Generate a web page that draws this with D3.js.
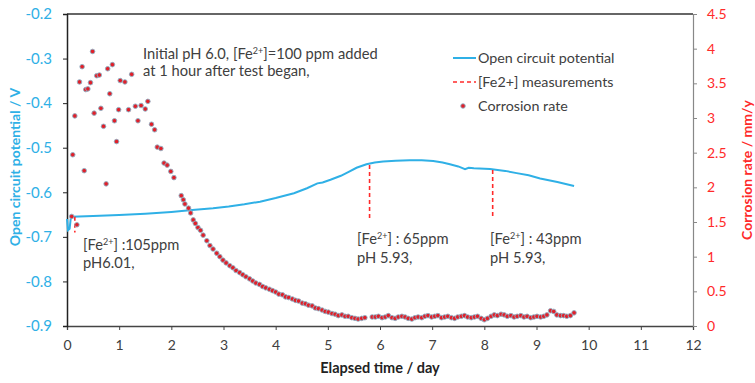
<!DOCTYPE html>
<html>
<head>
<meta charset="utf-8">
<script src="https://cdn.jsdelivr.net/npm/d3@7"></script>
<style>
  body { margin: 0; background: #fff; }
  text { font-family: Lato, "Open Sans", sans-serif; }
</style>
</head>
<body>
<svg id="chart" width="755" height="383"></svg>
<script>
// open circuit potential (V) vs elapsed time (day)
const ocpTime = [0, 0.02, 0.05, 0.07, 0.1, 0.5, 1.0, 1.5, 2.0, 2.4, 2.8, 3.1, 3.4, 3.7, 4.0, 4.35, 4.6, 4.8, 4.9, 5.05, 5.25, 5.4, 5.55, 5.74, 5.9, 6.06, 6.3, 6.57, 6.8, 7.02, 7.2, 7.34, 7.5, 7.63, 7.7, 7.8, 8.11, 8.4, 8.62, 8.85, 9.07, 9.4, 9.72];
const ocpValue = [-0.66, -0.685, -0.682, -0.66, -0.655, -0.653, -0.651, -0.648, -0.644, -0.640, -0.636, -0.632, -0.627, -0.621, -0.613, -0.602, -0.591, -0.580, -0.578, -0.572, -0.563, -0.554, -0.545, -0.537, -0.533, -0.531, -0.529, -0.528, -0.528, -0.530, -0.533, -0.537, -0.542, -0.548, -0.545, -0.546, -0.548, -0.552, -0.557, -0.562, -0.569, -0.577, -0.586];

// corrosion rate (mm/y)
const crTime = [0.09, 0.19, 0.11, 0.15, 0.33, 0.24, 0.29, 0.36, 0.40, 0.45, 0.49, 0.52, 0.57, 0.62, 0.65, 0.70, 0.75, 0.78, 0.82, 0.87, 0.91, 0.95, 0.99, 1.02, 1.11, 1.18, 1.24, 1.31, 1.36, 1.42, 1.50, 1.55, 1.62, 1.68, 1.73, 1.80, 1.86, 1.92, 1.99, 2.05,
  2.19, 2.23, 2.26, 2.33, 2.37, 2.42, 2.46, 2.51, 2.56, 2.61, 2.68, 2.74, 2.80, 2.87, 2.93, 2.99, 3.05, 3.12, 3.18, 3.24, 3.31, 3.37, 3.43, 3.50, 3.56, 3.62, 3.69, 3.75, 3.81, 3.88, 3.94, 4.00, 4.06, 4.13, 4.19, 4.25, 4.32, 4.38, 4.44, 4.51, 4.57, 4.63, 4.70, 4.76, 4.82, 4.89, 4.95, 5.01, 5.08, 5.14, 5.20, 5.27, 5.33, 5.39, 5.46, 5.52, 5.58, 5.65, 5.71,
  5.85, 5.91, 5.97, 6.04, 6.10, 6.16, 6.23, 6.29, 6.35, 6.42, 6.48, 6.54, 6.61, 6.67, 6.73, 6.80, 6.86, 6.92, 6.99, 7.05, 7.11, 7.18, 7.24, 7.30, 7.37, 7.43, 7.49, 7.56, 7.62, 7.68, 7.75, 7.81, 7.87, 7.94, 8.00, 8.06, 8.13, 8.19, 8.25, 8.32, 8.38, 8.44, 8.51, 8.57, 8.63, 8.70, 8.76, 8.82, 8.89, 8.95, 9.01, 9.08, 9.14, 9.20, 9.27, 9.33, 9.39, 9.46, 9.52, 9.58, 9.65, 9.72];
const crValue = [1.58, 1.46, 2.47, 3.03, 2.24, 3.52, 3.74, 3.41, 3.42, 3.51, 3.96, 3.07, 3.61, 3.62, 3.14, 2.88, 2.05, 3.71, 3.35, 3.77, 2.96, 2.66, 3.12, 3.54, 3.52, 3.12, 3.63, 3.17, 2.96, 3.18, 3.13, 3.24, 2.91, 2.83, 2.58, 2.56, 2.35, 2.32, 2.23, 2.14,
  1.88, 1.82, 1.76, 1.70, 1.63, 1.53, 1.48, 1.42, 1.38, 1.31, 1.23, 1.16, 1.11, 1.05, 1.00, 0.95, 0.91, 0.87, 0.84, 0.80, 0.77, 0.74, 0.71, 0.68, 0.65, 0.62, 0.60, 0.57, 0.55, 0.53, 0.51, 0.49, 0.46, 0.45, 0.42, 0.41, 0.39, 0.37, 0.36, 0.33, 0.32, 0.30, 0.29, 0.26, 0.25, 0.23, 0.21, 0.20, 0.18, 0.17, 0.15, 0.16, 0.14, 0.14, 0.12, 0.11, 0.10, 0.11, 0.12,
  0.13, 0.13, 0.14, 0.12, 0.13, 0.15, 0.12, 0.11, 0.13, 0.14, 0.13, 0.11, 0.10, 0.12, 0.13, 0.12, 0.14, 0.15, 0.13, 0.14, 0.15, 0.12, 0.13, 0.14, 0.12, 0.11, 0.13, 0.14, 0.15, 0.13, 0.12, 0.13, 0.14, 0.11, 0.09, 0.11, 0.14, 0.16, 0.15, 0.17, 0.16, 0.14, 0.15, 0.13, 0.14, 0.15, 0.13, 0.14, 0.12, 0.13, 0.14, 0.13, 0.14, 0.16, 0.22, 0.21, 0.16, 0.15, 0.15, 0.14, 0.15, 0.19];

// [Fe2+] measurements, vertical dashes (in V)
const fe2Time = [0.15, 5.8, 8.16];
const fe2Top = [-0.655, -0.539, -0.55];
const fe2Bottom = [-0.69, -0.661, -0.658];

const xTicks = d3.range(0, 13, 1);
const leftTicks = [-0.9, -0.8, -0.7, -0.6, -0.5, -0.4, -0.3, -0.2];
const rightTicks = [0, 0.5, 1, 1.5, 2, 2.5, 3, 3.5, 4, 4.5];

const blue = "#2fb0e6", red = "#ff2a2a", dark = "#404040";

const svg = d3.select("#chart");
const x = d3.scaleLinear([0, 12], [67, 693]);
const yL = d3.scaleLinear([-0.9, -0.2], [326, 14]);
const yR = d3.scaleLinear([0, 4.5], [326, 14]);

// frame top
svg.append("line").attr("x1", 67).attr("x2", 693).attr("y1", 14).attr("y2", 14)
    .attr("stroke", "#333").attr("stroke-width", 1.3);

const xAxis = svg.append("g").attr("transform", "translate(0,326)")
    .call(d3.axisBottom(x).tickValues(xTicks).tickSize(4).tickPadding(10).tickFormat(d => d));
xAxis.select(".domain").attr("stroke", "#444").attr("stroke-width", 1.3);
xAxis.selectAll(".tick line").attr("stroke", "#444");
xAxis.selectAll("text").attr("fill", dark).style("font-size", "14px").style("font-family", "Lato, sans-serif");

const lAxis = svg.append("g").attr("transform", "translate(67,0)")
    .call(d3.axisLeft(yL).tickValues(leftTicks).tickSize(4).tickPadding(11).tickFormat(d => d.toFixed(1)));
lAxis.select(".domain").attr("stroke", "#222").attr("stroke-width", 1.5);
lAxis.selectAll(".tick line").attr("stroke", "#222");
lAxis.selectAll("text").attr("fill", blue).style("font-size", "15px").style("font-family", "Lato, sans-serif");

const rAxis = svg.append("g").attr("transform", "translate(693,0)")
    .call(d3.axisRight(yR).tickValues(rightTicks).tickSize(4).tickPadding(10).tickFormat(d => d));
rAxis.select(".domain").attr("stroke", "#888").attr("stroke-width", 1.2);
rAxis.selectAll(".tick line").attr("stroke", "#888");
rAxis.selectAll("text").attr("fill", red).style("font-size", "14px").style("font-family", "Lato, sans-serif");

// axis titles
svg.append("text").attr("transform", "translate(20,167) rotate(-90)")
    .attr("text-anchor", "middle").attr("fill", blue)
    .style("font-size", "14px").style("font-weight", "bold")
    .text("Open circuit potential / V");
svg.append("text").attr("transform", "translate(752,170) rotate(-90)")
    .attr("text-anchor", "middle").attr("fill", red)
    .style("font-size", "14px").style("font-weight", "bold")
    .text("Corrosion rate / mm/y");
svg.append("text").attr("x", 380).attr("y", 373)
    .attr("text-anchor", "middle").attr("fill", "#222")
    .style("font-size", "14.5px").style("font-weight", "bold")
    .text("Elapsed time / day");

// OCP line
const ocp = ocpTime.map((t, i) => [t, ocpValue[i]]);
svg.append("path").datum(ocp)
    .attr("fill", "none").attr("stroke", blue).attr("stroke-width", 2)
    .attr("d", d3.line().x(d => x(d[0])).y(d => yL(d[1])));

// Fe2+ dashes
svg.append("g").selectAll("line")
    .data(fe2Time)
    .enter()
    .append("line")
    .attr("x1", d => x(d)).attr("x2", d => x(d))
    .attr("y1", (d, i) => yL(fe2Top[i]))
    .attr("y2", (d, i) => yL(fe2Bottom[i]))
    .attr("stroke", red).attr("stroke-width", 1.6).attr("stroke-dasharray", "4,3");

// corrosion rate points
svg.append("g").selectAll("circle")
    .data(crTime)
    .enter()
    .append("circle")
    .attr("cx", d => x(d))
    .attr("cy", (d, i) => yR(crValue[i]))
    .attr("r", 2.3)
    .attr("fill", "#e0202a")
    .attr("stroke", "#8fb0c4").attr("stroke-width", 0.9);

// annotations
const fs = "14.7px";
function feLabel(g, px, py, rest) {
    const t = g.append("text").attr("x", px).attr("y", py).attr("fill", dark).style("font-size", fs);
    t.append("tspan").text("[Fe");
    t.append("tspan").attr("dy", -5).style("font-size", "9px").text("2+");
    t.append("tspan").attr("dy", 5).text("]" + rest);
}
const notes = svg.append("g");
const n1 = notes.append("text").attr("x", 143).attr("y", 59).attr("fill", dark).style("font-size", fs);
n1.append("tspan").text("Initial pH 6.0, [Fe");
n1.append("tspan").attr("dy", -5).style("font-size", "9px").text("2+");
n1.append("tspan").attr("dy", 5).text("]=100 ppm added");
notes.append("text").attr("x", 143).attr("y", 76).attr("fill", dark).style("font-size", fs)
    .text("at 1 hour after test began,");

feLabel(notes, 83, 250, " :105ppm");
notes.append("text").attr("x", 83).attr("y", 268).attr("fill", dark).style("font-size", fs).text("pH6.01,");
feLabel(notes, 357, 244, " : 65ppm");
notes.append("text").attr("x", 357).attr("y", 263).attr("fill", dark).style("font-size", fs).text("pH 5.93,");
feLabel(notes, 490, 244, " : 43ppm");
notes.append("text").attr("x", 490).attr("y", 263).attr("fill", dark).style("font-size", fs).text("pH 5.93,");

// legend
const legend = svg.append("g");
legend.append("line").attr("x1", 453).attr("x2", 476).attr("y1", 58).attr("y2", 58)
    .attr("stroke", blue).attr("stroke-width", 2);
legend.append("line").attr("x1", 453).attr("x2", 476).attr("y1", 82).attr("y2", 82)
    .attr("stroke", red).attr("stroke-width", 1.6).attr("stroke-dasharray", "4,3");
legend.append("circle").attr("cx", 463).attr("cy", 106).attr("r", 2.3)
    .attr("fill", "#e0202a").attr("stroke", "#8fb0c4").attr("stroke-width", 0.9);
["Open circuit potential", "[Fe2+] measurements", "Corrosion rate"].forEach((s, i) => {
    legend.append("text").attr("x", 478).attr("y", 63 + i * 24).attr("fill", dark)
        .style("font-size", "14.3px").text(s);
});
</script>
</body>
</html>
